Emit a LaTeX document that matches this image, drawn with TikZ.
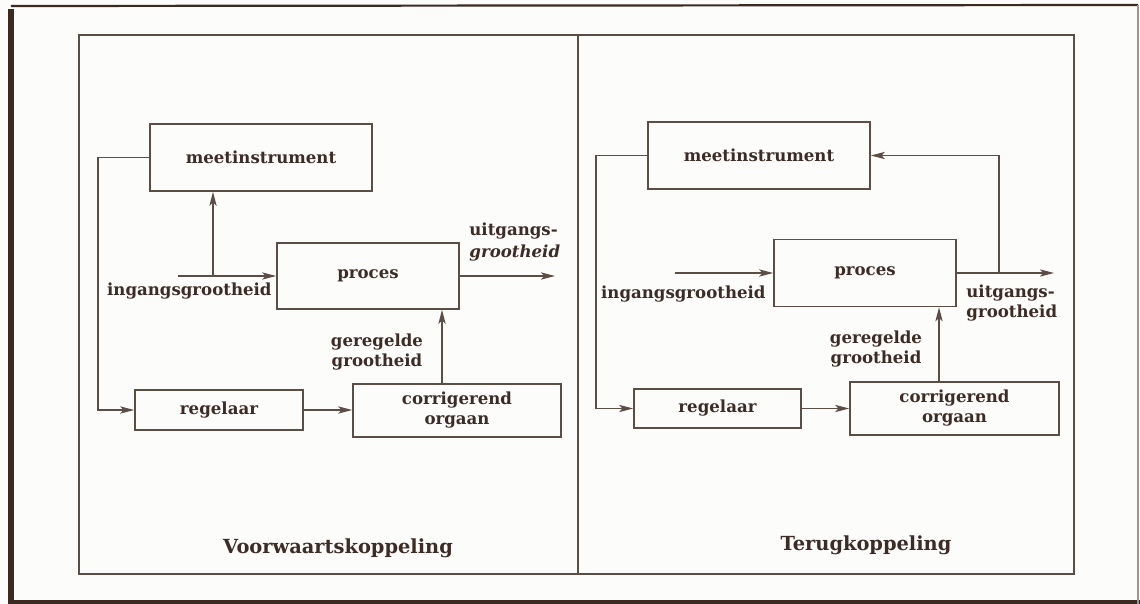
\documentclass[tikz,border=0pt]{standalone}
\usepackage{fontspec}
\setmainfont{DejaVu Serif}
\usetikzlibrary{arrows.meta}
\definecolor{ink}{HTML}{3D2B26}
\definecolor{wire}{HTML}{5C4D47}
\definecolor{paper}{HTML}{FCFCFA}
\definecolor{edge}{HTML}{3B2A22}
\tikzset{
  blk/.style={draw=wire, line width=0.8pt, inner sep=0pt, text=ink,
    font=\fontsize{8.3}{10}\selectfont\bfseries, align=center},
  lab/.style={inner sep=0pt, text=ink, font=\fontsize{8.3}{10}\selectfont\bfseries},
  ttl/.style={inner sep=0pt, text=ink, font=\fontsize{9.7}{11}\selectfont\bfseries},
  arr/.style={draw=wire, line width=0.75pt, -{Stealth[length=7pt,width=3.6pt,inset=1.6pt]}},
}
\begin{document}
\begin{tikzpicture}[x=0.5pt, y=-0.5pt]
% sheet and outer border
\fill[paper] (0,0) rectangle (1140,604);
\useasboundingbox (0,0) rectangle (1140,604);
\draw[edge, line width=1.1pt] (11,6) -- (1138,5);
\draw[edge, line width=2.6pt] (11,9) -- (11,604);
\draw[edge, line width=1.8pt] (8,602) -- (1140,602);
\draw[wire!60, line width=0.6pt] (1138,5) -- (1138,604);
% inner frame with the two panels
\draw[wire, line width=0.8pt] (79,35) rectangle (1074,574);
\draw[wire, line width=0.8pt] (578,35) -- (578,574);

% ---------- left panel: feed-forward ----------
\node[blk, minimum width=111pt, minimum height=33.5pt] (meet1) at (261,157.5) {meetinstrument};
\node[blk, minimum width=91pt, minimum height=33pt] (proc1) at (368,276) {proces};
\node[blk, minimum width=84pt, minimum height=20pt] (reg1) at (219,410) {regelaar};
\node[blk, minimum width=104pt, minimum height=26.5pt] (corr1) at (457,410.5) {corrigerend\\orgaan};

\coordinate (in1) at (178,276);
\coordinate (br1) at (213,276);
\coordinate (out1) at (555,276);
\coordinate (fb1) at (98,300);

\draw[arr] (in1) -- (proc1.west);
\draw[arr] (br1) -- (br1 |- meet1.south);
\draw[arr] (proc1.east) -- (out1);
\draw[arr] (meet1.west) -| (fb1) |- (reg1.west);
\draw[arr] (reg1.east) -- (reg1.east -| corr1.west);
\draw[arr] ([xshift=-7.5pt]corr1.north) -- ([xshift=-7.5pt]corr1.north |- proc1.south);

\node[lab, anchor=east] (inl1) at (272,291) {ingangsgrootheid};
\node[lab, anchor=west, align=left] (outl1) at (469,242) {uitgangs-\\[1pt]\textit{grootheid}};
\node[lab, align=center] (gl1) at (377,352) {geregelde\\grootheid};
\node[ttl] (t1) at (338,548) {Voorwaartskoppeling};

% ---------- right panel: feedback ----------
\node[blk, minimum width=111pt, minimum height=33.5pt] (meet2) at (759,155.5) {meetinstrument};
\node[blk, minimum width=91pt, minimum height=33.5pt] (proc2) at (865,273) {proces};
\node[blk, minimum width=83.5pt, minimum height=19.5pt] (reg2) at (717.5,408.5) {regelaar};
\node[blk, minimum width=104.5pt, minimum height=26.5pt] (corr2) at (954.5,408.5) {corrigerend\\orgaan};

\coordinate (in2) at (675,273);
\coordinate (br2) at (999,273);
\coordinate (out2) at (1054,273);
\coordinate (fb2) at (596,300);

\draw[arr] (in2) -- (proc2.west);
\draw[arr] (proc2.east) -- (out2);
\draw[arr] (br2) |- (meet2.east);
\draw[arr] (meet2.west) -| (fb2) |- (reg2.west);
\draw[arr] (reg2.east) -- (reg2.east -| corr2.west);
\draw[arr] ([xshift=-7.75pt]corr2.north) -- ([xshift=-7.75pt]corr2.north |- proc2.south);

\node[lab, anchor=east] (inl2) at (766,294) {ingangsgrootheid};
\node[lab, anchor=west, align=left] (outl2) at (966,303.5) {uitgangs-\\grootheid};
\node[lab, align=center] (gl2) at (876,349.5) {geregelde\\grootheid};
\node[ttl] (t2) at (866,545) {Terugkoppeling};
\end{tikzpicture}
\end{document}
